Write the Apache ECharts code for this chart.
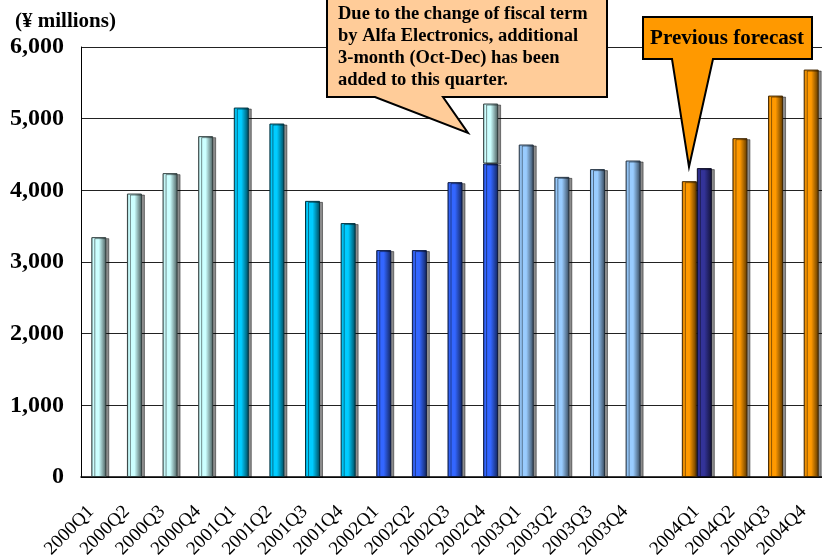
<!DOCTYPE html>
<html><head><meta charset="utf-8">
<script src="https://cdn.jsdelivr.net/npm/echarts@6/dist/echarts.min.js"></script>
<style>html,body{margin:0;padding:0;background:#fff}#c{width:822px;height:556px}</style>
</head><body><div id="c"></div>
<script>
const categories = ['2000Q1','2000Q2','2000Q3','2000Q4','2001Q1','2001Q2','2001Q3','2001Q4',
  '2002Q1','2002Q2','2002Q3','2002Q4','2003Q1','2003Q2','2003Q3','2003Q4','',
  '2004Q1','2004Q2','2004Q3','2004Q4'];
const salesValues = [3347,3955,4240,4756,5155,4932,3853,3543,3166,3166,4114,4374,4639,4188,4296,4416,null,4310,4728,5322,5685];
const additionalValues = [null,null,null,null,null,null,null,null,null,null,null,837,null,null,null,null,null,null,null,null,null];
const previousForecastValues = [null,null,null,null,null,null,null,null,null,null,null,null,null,null,null,null,null,4128,null,null,null];
const barGroups = ['y2000','y2000','y2000','y2000','y2001','y2001','y2001','y2001','y2002','y2002','y2002','y2002','y2003','y2003','y2003','y2003','','actual2004','forecast','forecast','forecast'];
const yTickLabels = ['0','1,000','2,000','3,000','4,000','5,000','6,000'];

const palette = {y2000:'#CCFFFF', y2001:'#00CCFF', y2002:'#3366FF', y2003:'#99CCFF', actual2004:'#333399', forecast:'#FF9900'};
function shade(hex,k){
  const n=parseInt(hex.slice(1),16);
  const r=Math.round(((n>>16)&255)*k), g=Math.round(((n>>8)&255)*k), b=Math.round((n&255)*k);
  return 'rgb('+r+','+g+','+b+')';
}
function grad(hex){
  return new echarts.graphic.LinearGradient(0,0,1,0,[
    {offset:0,color:shade(hex,0.7)},{offset:0.15,color:hex},{offset:0.5,color:hex},{offset:1,color:shade(hex,0.35)}]);
}
function barStyle(hex){
  return {color:grad(hex), borderColor:shade(hex,0.25), borderWidth:1,
    shadowColor:'rgba(0,0,0,0.45)', shadowOffsetX:3, shadowOffsetY:1, shadowBlur:0};
}
const dash = v => v==null ? '-' : v;
const FONT = '"Liberation Serif","Times New Roman",serif';

const chart = echarts.init(document.getElementById('c'));
chart.setOption({
  animation:false,
  grid:{left:81, right:-7, top:47, bottom:79, containLabel:false, outerBoundsMode:'none'},
  xAxis:{type:'category', data:categories, boundaryGap:true,
    axisLine:{lineStyle:{color:'#000', width:1.5}},
    axisTick:{inside:true, length:5, interval:0, lineStyle:{color:'#000'}},
    axisLabel:{rotate:45, interval:0, margin:24, color:'#000',
      formatter:v=>'{t|'+v+'}',
      rich:{t:{fontFamily:FONT, fontSize:19, color:'#000', padding:[0,11,0,0]}}}},
  yAxis:{type:'value', min:0, max:6000, interval:1000,
    axisLine:{show:true, lineStyle:{color:'#000', width:1}},
    axisTick:{show:false},
    splitLine:{lineStyle:{color:'#222', width:1}},
    axisLabel:{formatter:v=>yTickLabels[Math.round(v/1000)], fontFamily:FONT, fontWeight:'bold', fontSize:24, color:'#000', margin:17}},
  series:[
    {type:'bar', name:'Previous forecast', stack:'pf', barWidth:15, barGap:'0%',
      data:previousForecastValues.map(dash), itemStyle:barStyle(palette.forecast)},
    {type:'bar', name:'Sales', stack:'main', barWidth:15, barGap:'0%',
      data:salesValues.map((v,i)=> v==null ? '-' : {value:v, itemStyle:barStyle(palette[barGroups[i]])})},
    {type:'bar', name:'Additional', stack:'main', barWidth:15, barGap:'0%',
      data:additionalValues.map(dash), itemStyle:barStyle(palette.y2000)},
    {type:'bar', name:'spacer', stack:'sp', barWidth:15, barGap:'0%',
      data:categories.map(()=>'-')}
  ],
  graphic:[
    {type:'text', z:100, style:{x:15, y:21.6, text:'(¥ millions)', font:'bold 21px '+FONT, fill:'#000', verticalAlign:'middle'}},
    {type:'polygon', z:100, shape:{points:[[327,-3],[607,-3],[607,97],[443,97],[468,133],[375,97],[327,97]]},
      style:{fill:'#FFCC99', stroke:'#000', lineWidth:2}},
    {type:'text', z:101, style:{x:338, y:2.8, text:'Due to the change of fiscal term\nby Alfa Electronics, additional\n3-month (Oct-Dec) has been\nadded to this quarter.',
      font:'bold 18.5px '+FONT, lineHeight:22, fill:'#000', verticalAlign:'top'}},
    {type:'polygon', z:100, shape:{points:[[643,17],[812,17],[812,59],[713,59],[689,167],[672,59],[643,59]]},
      style:{fill:'#FF9900', stroke:'#000', lineWidth:2}},
    {type:'text', z:101, style:{x:727, y:38.6, text:'Previous forecast', font:'bold 21px '+FONT, fill:'#000', align:'center', verticalAlign:'middle'}}
  ]
});
</script></body></html>
